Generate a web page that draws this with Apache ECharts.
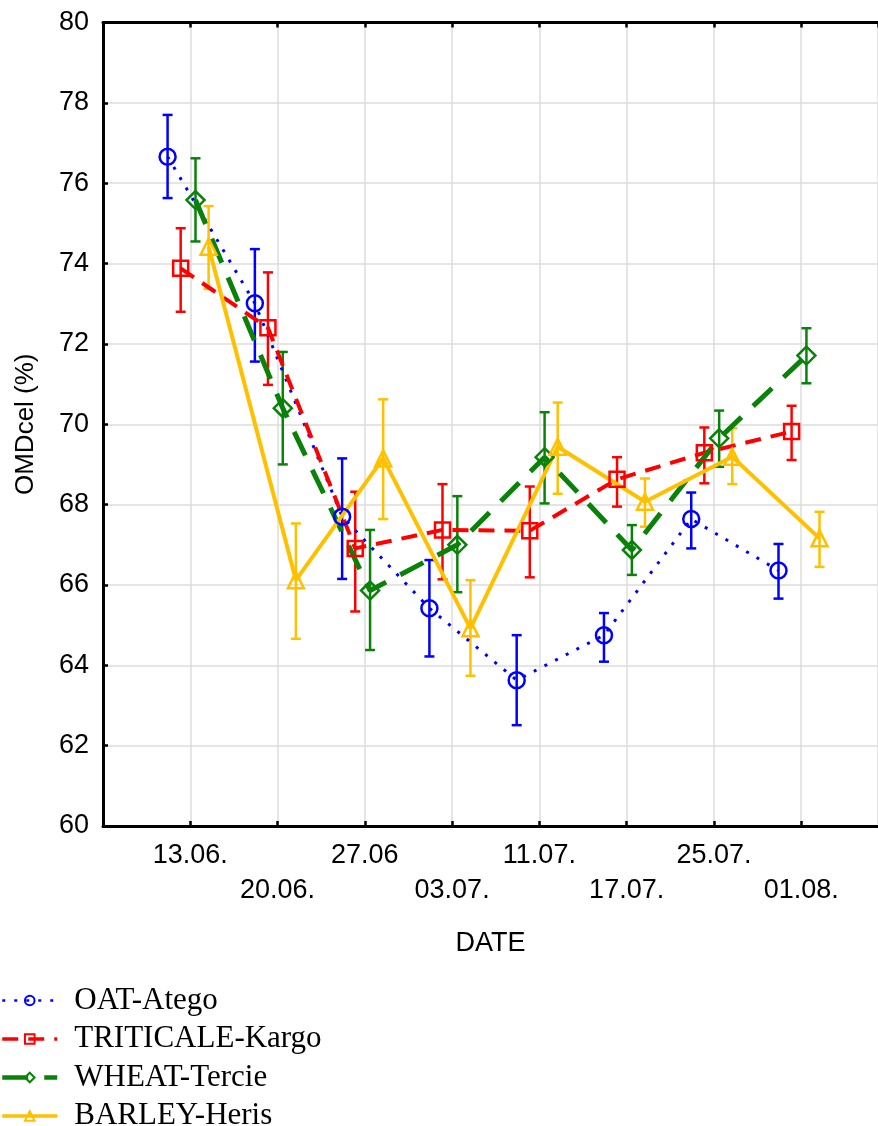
<!DOCTYPE html>
<html>
<head>
<meta charset="utf-8">
<script src="https://cdn.jsdelivr.net/npm/echarts@6/dist/echarts.min.js"></script>
<style>
  html, body { margin: 0; padding: 0; background: #fff; }
  #chart { width: 878px; height: 1126px; }
</style>
</head>
<body>
<div id="chart"></div>
<script>
// sampling dates (category labels)
const dates = ['13.06.', '20.06.', '27.06', '03.07.', '11.07.', '17.07.', '25.07.', '01.08.'];

// OMDcel (%) means and error bar ends
const oatMean = [76.66, 73.01, 67.70, 65.42, 63.63, 64.75, 67.64, 66.36];
const oatLow  = [75.63, 71.56, 66.15, 64.22, 62.51, 64.09, 66.91, 65.66];
const oatHigh = [77.70, 74.36, 69.15, 66.62, 64.75, 65.30, 68.30, 67.02];

const tritMean = [73.88, 72.40, 66.91, 67.37, 67.35, 68.63, 69.29, 69.82];
const tritLow  = [72.80, 70.98, 65.34, 66.14, 66.19, 67.95, 68.53, 69.11];
const tritHigh = [74.88, 73.78, 68.32, 68.51, 68.45, 69.18, 69.92, 70.46];

const wheatMean = [75.58, 70.40, 65.86, 67.00, 69.18, 66.87, 69.65, 71.71];
const wheatLow  = [74.55, 69.00, 64.38, 65.82, 68.03, 66.25, 68.94, 71.02];
const wheatHigh = [76.62, 71.80, 67.37, 68.21, 70.30, 67.49, 70.34, 72.39];

const barleyMean = [74.42, 66.12, 69.15, 64.92, 69.44, 68.07, 69.19, 67.16];
const barleyLow  = [73.37, 64.66, 67.64, 63.74, 68.27, 67.45, 68.51, 66.45];
const barleyHigh = [75.43, 67.53, 70.62, 66.12, 70.54, 68.65, 69.90, 67.82];

const yTicks = [60, 62, 64, 66, 68, 70, 72, 74, 76, 78, 80];

const seriesDefs = [
  { name: 'OAT-Atego', mean: oatMean, low: oatLow, high: oatHigh, color: '#0000ff',
    shift: -0.26, symbol: 'circle', size: 16, dash: [3, 9], width: 3 },
  { name: 'TRITICALE-Kargo', mean: tritMean, low: tritLow, high: tritHigh, color: '#ff0000',
    shift: -0.11, symbol: 'rect', size: 15, dash: [16, 10], width: 4 },
  { name: 'WHEAT-Tercie', mean: wheatMean, low: wheatLow, high: wheatHigh, color: '#0a820a',
    shift: 0.06, symbol: 'diamond', size: 18, dash: [26, 16], width: 5 },
  { name: 'BARLEY-Heris', mean: barleyMean, low: barleyLow, high: barleyHigh, color: '#ffc000',
    shift: 0.21, symbol: 'triangle', size: 16, dash: 'solid', width: 4 }
];

const chart = echarts.init(document.getElementById('chart'), null, { renderer: 'canvas' });

// error bar: vertical line + two caps
function errorBar(color) {
  return function (params, api) {
    const x = api.value(0);
    const top = api.coord([x, api.value(2)]);
    const bot = api.coord([x, api.value(1)]);
    const half = 5;
    const style = { stroke: color, lineWidth: 2.5 };
    return {
      type: 'group',
      children: [
        { type: 'line', shape: { x1: top[0], y1: top[1], x2: bot[0], y2: bot[1] }, style: style },
        { type: 'line', shape: { x1: top[0] - half, y1: top[1], x2: top[0] + half, y2: top[1] }, style: style },
        { type: 'line', shape: { x1: bot[0] - half, y1: bot[1], x2: bot[0] + half, y2: bot[1] }, style: style }
      ]
    };
  };
}

const series = [];
seriesDefs.forEach(function (s) {
  series.push({
    type: 'custom',
    name: s.name + ' err',
    renderItem: errorBar(s.color),
    encode: { x: 0, y: [1, 2] },
    data: s.mean.map(function (v, i) { return [i + 1 + s.shift, s.low[i], s.high[i]]; }),
    z: 2,
    silent: true
  });
});
seriesDefs.forEach(function (s) {
  series.push({
    type: 'line',
    name: s.name,
    data: s.mean.map(function (v, i) { return [i + 1 + s.shift, v]; }),
    symbol: s.symbol,
    symbolSize: s.size,
    showAllSymbol: true,
    itemStyle: { color: 'rgba(255,255,255,0)', borderColor: s.color, borderWidth: 2.5 },
    lineStyle: { color: s.color, width: s.width, type: s.dash },
    z: 3,
    animation: false
  });
});

const axisBlack = { lineStyle: { color: '#000', width: 3 } };
const tickInside = { inside: true, length: 5, lineStyle: { color: '#000', width: 2.5 } };

const option = {
  backgroundColor: '#fff',
  animation: false,
  grid: { left: 103, right: 0, top: 22.5, bottom: 300, containLabel: false },
  xAxis: [
    {
      type: 'value',
      min: 0,
      max: 8.88,
      interval: 1,
      position: 'bottom',
      name: 'DATE',
      nameLocation: 'middle',
      nameGap: 104,
      nameTextStyle: { color: '#000', fontSize: 27, fontFamily: 'Liberation Sans' },
      axisLine: axisBlack,
      axisTick: tickInside,
      splitLine: { show: true, lineStyle: { color: '#dcdcdc', width: 1.5 } },
      axisLabel: {
        color: '#000',
        fontSize: 27,
        fontFamily: 'Liberation Sans',
        lineHeight: 35,
        margin: 12,
        showMaxLabel: false,
        formatter: function (v) {
          if (v < 1 || v > dates.length || Math.round(v) !== v) return '';
          const i = v - 1;
          return i % 2 === 0 ? dates[i] : '\n' + dates[i];
        }
      }
    },
    {
      type: 'value',
      min: 0,
      max: 8.88,
      interval: 1,
      position: 'top',
      axisLine: axisBlack,
      axisTick: tickInside,
      axisLabel: { show: false },
      splitLine: { show: false }
    }
  ],
  yAxis: {
    type: 'value',
    min: yTicks[0],
    max: yTicks[yTicks.length - 1],
    interval: 2,
    name: 'OMDcel (%)',
    nameLocation: 'middle',
    nameRotate: 90,
    nameGap: 64,
    nameTextStyle: { color: '#000', fontSize: 26, fontFamily: 'Liberation Sans' },
    axisLine: { show: true, lineStyle: { color: '#000', width: 3 } },
    axisTick: tickInside,
    splitLine: { show: true, lineStyle: { color: '#dcdcdc', width: 1.5 } },
    axisLabel: { color: '#000', fontSize: 27, fontFamily: 'Liberation Sans', margin: 14 }
  },
  legend: {
    orient: 'vertical',
    left: 0,
    top: 985,
    height: 160,
    padding: 0,
    itemWidth: 55,
    itemHeight: 12,
    itemGap: 7.5,
    data: seriesDefs.map(function (s) {
      return { name: s.name, lineStyle: { width: s.width - 0.5 } };
    }),
    textStyle: {
      color: '#000',
      fontSize: 31,
      fontFamily: 'Liberation Serif',
      lineHeight: 30,
      padding: [0, 0, 0, 12]
    }
  },
  series: series
};

chart.setOption(option);
</script>
</body>
</html>
